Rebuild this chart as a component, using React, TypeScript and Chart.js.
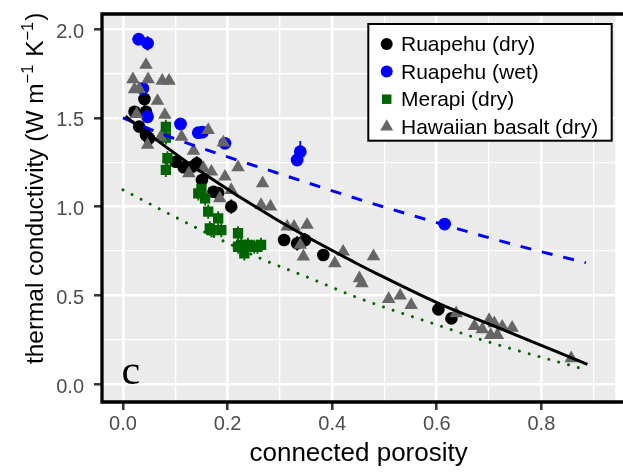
import React, { useEffect, useRef } from 'react';
import { Chart, registerables } from 'chart.js';

Chart.register(...registerables);

// ---------------- axis ticks ----------------
const xMajorTicks = [0, 0.2, 0.4, 0.6, 0.8];
const xMinorTicks = [0.1, 0.3, 0.5, 0.7, 0.9];
const yMajorTicks = [0, 0.5, 1.0, 1.5, 2.0];
const yMinorTicks = [0.25, 0.75, 1.25, 1.75];

const xTitle = 'connected porosity';
const panelTag = 'c';

// ---------------- series ----------------
const seriesLabels = ['Ruapehu (dry)', 'Ruapehu (wet)', 'Merapi (dry)', 'Hawaiian basalt (dry)'];

// Ruapehu (dry)
const ruapehuDryPorosity = [0.022, 0.031, 0.041, 0.044, 0.044, 0.050, 0.101, 0.116, 0.132, 0.141, 0.151, 0.173, 0.182, 0.207, 0.308, 0.333, 0.348, 0.383, 0.603, 0.628];
const ruapehuDryConductivity = [1.535, 1.451, 1.607, 1.535, 1.404, 1.385, 1.253, 1.222, 1.225, 1.244, 1.150, 1.084, 1.077, 1.000, 0.812, 0.793, 0.812, 0.727, 0.421, 0.370];
const ruapehuDryError = [0.03, 0.03, 0.04, 0.03, 0.03, 0.03, 0.03, 0.03, 0.03, 0.04, 0.04, 0.03, 0.03, 0.04, 0.03, 0.04, 0.04, 0.03, 0.02, 0.02];

// Ruapehu (wet)
const ruapehuWetPorosity = [0.030, 0.047, 0.038, 0.047, 0.110, 0.144, 0.152, 0.195, 0.333, 0.339, 0.615];
const ruapehuWetConductivity = [1.944, 1.921, 1.667, 1.507, 1.466, 1.417, 1.420, 1.357, 1.263, 1.310, 0.902];
const ruapehuWetError = [0.02, 0.04, 0.02, 0.03, 0.02, 0.02, 0.02, 0.02, 0.03, 0.06, 0.01];

// Merapi (dry)
const merapiPorosity = [0.082, 0.082, 0.085, 0.082, 0.144, 0.150, 0.157, 0.163, 0.169, 0.166, 0.182, 0.188, 0.220, 0.220, 0.226, 0.232, 0.239, 0.251, 0.257, 0.264];
const merapiConductivity = [1.45, 1.39, 1.273, 1.207, 1.075, 1.10, 1.047, 0.972, 0.868, 0.878, 0.934, 0.868, 0.850, 0.774, 0.784, 0.737, 0.784, 0.774, 0.774, 0.784];
const merapiErrorY = [0.04, 0.04, 0.04, 0.04, 0.04, 0.04, 0.04, 0.04, 0.04, 0.04, 0.04, 0.04, 0.04, 0.04, 0.04, 0.04, 0.04, 0.04, 0.04, 0.04];
const merapiErrorX = [0.006, 0.006, 0.006, 0.006, 0.008, 0.008, 0.008, 0.008, 0.008, 0.008, 0.008, 0.008, 0.008, 0.008, 0.008, 0.008, 0.008, 0.008, 0.008, 0.008];

// Hawaiian basalt (dry)
const hawaiiPorosity = [0.044, 0.019, 0.048, 0.075, 0.088, 0.022, 0.031, 0.066, 0.080, 0.026, 0.112, 0.163, 0.192, 0.072, 0.047, 0.135, 0.126, 0.169, 0.154, 0.195, 0.220, 0.267, 0.207, 0.185, 0.264, 0.282, 0.314, 0.327, 0.352, 0.339, 0.345, 0.421, 0.405, 0.479, 0.452, 0.457, 0.508, 0.530, 0.551, 0.637, 0.672, 0.687, 0.700, 0.710, 0.725, 0.744, 0.703, 0.716, 0.857];
const hawaiiConductivity = [1.799, 1.718, 1.718, 1.710, 1.710, 1.662, 1.663, 1.596, 1.517, 1.522, 1.394, 1.432, 1.361, 1.391, 1.348, 1.315, 1.188, 1.197, 1.216, 1.169, 1.222, 1.132, 1.094, 1.047, 1.009, 1.000, 0.887, 0.887, 0.897, 0.784, 0.718, 0.746, 0.681, 0.720, 0.596, 0.568, 0.479, 0.498, 0.445, 0.399, 0.327, 0.308, 0.361, 0.342, 0.323, 0.317, 0.276, 0.276, 0.145];

// Fit curves
const dryFitPorosity = [0.005, 0.022, 0.056, 0.144, 0.295, 0.446, 0.484, 0.603, 0.697, 0.888];
const dryFitConductivity = [1.51, 1.47, 1.394, 1.207, 0.925, 0.681, 0.624, 0.455, 0.342, 0.111];

const wetFitPorosity = [0.0, 0.07, 0.17, 0.295, 0.458, 0.54, 0.703, 0.797, 0.885];
const wetFitConductivity = [1.50, 1.415, 1.31, 1.19, 1.035, 0.962, 0.822, 0.748, 0.684];

const merapiFitPorosity = [0.0, 0.138, 0.195, 0.270, 0.352, 0.452, 0.596, 0.697, 0.882];
const merapiFitConductivity = [1.095, 0.884, 0.802, 0.699, 0.603, 0.483, 0.338, 0.239, 0.083];

// ---------------- helpers ----------------
const FONT = '"Liberation Sans", Arial, Helvetica, sans-serif';
const pts = (xs: number[], ys: number[]) => xs.map((x, i) => ({ x, y: ys[i] }));
const isIn = (arr: number[], v: number) => arr.some((a) => Math.abs(a - v) < 1e-9);
const sorted = (a: number[]) => [...a].sort((p, q) => p - q);

const BLACK = '#000000';
const BLUE = '#0000FF';
const GREEN = '#006400';
const GREY = '#666666';

function drawMarker(ctx: CanvasRenderingContext2D, style: string, x: number, y: number, r: number, color: string) {
  ctx.fillStyle = color;
  ctx.beginPath();
  if (style === 'circle') {
    ctx.arc(x, y, r, 0, Math.PI * 2);
  } else if (style === 'rect') {
    const s = Math.SQRT1_2 * r;
    ctx.rect(x - s, y - s, 2 * s, 2 * s);
  } else if (style === 'triangle') {
    let rad = 0;
    ctx.moveTo(x + Math.sin(rad) * r, y - Math.cos(rad) * r);
    rad += (2 * Math.PI) / 3;
    ctx.lineTo(x + Math.sin(rad) * r, y - Math.cos(rad) * r);
    rad += (2 * Math.PI) / 3;
    ctx.lineTo(x + Math.sin(rad) * r, y - Math.cos(rad) * r);
    ctx.closePath();
  }
  ctx.fill();
}

const decorPlugin = {
  id: 'decor',
  beforeDraw(chart: any) {
    const { ctx, chartArea: a } = chart;
    ctx.save();
    ctx.fillStyle = '#EBEBEB';
    ctx.fillRect(a.left, a.top, a.right - a.left, a.bottom - a.top);
    ctx.restore();
  },
  beforeDatasetsDraw(chart: any) {
    // error bars
    const { ctx, scales } = chart;
    const xs = scales.x;
    const ys = scales.y;
    ctx.save();
    ctx.beginPath();
    ctx.rect(chart.chartArea.left, chart.chartArea.top, chart.chartArea.right - chart.chartArea.left, chart.chartArea.bottom - chart.chartArea.top);
    ctx.clip();
    chart.data.datasets.forEach((ds: any) => {
      if (!ds.errY && !ds.errX) return;
      ctx.strokeStyle = ds.backgroundColor;
      ctx.lineWidth = 1.8;
      ds.data.forEach((p: any, i: number) => {
        const px = xs.getPixelForValue(p.x);
        const py = ys.getPixelForValue(p.y);
        if (ds.errY) {
          const e = ds.errY[i];
          ctx.beginPath();
          ctx.moveTo(px, ys.getPixelForValue(p.y - e));
          ctx.lineTo(px, ys.getPixelForValue(p.y + e));
          ctx.stroke();
        }
        if (ds.errX) {
          const e = ds.errX[i];
          ctx.beginPath();
          ctx.moveTo(xs.getPixelForValue(p.x - e), py);
          ctx.lineTo(xs.getPixelForValue(p.x + e), py);
          ctx.stroke();
        }
      });
    });
    ctx.restore();
  },
  afterDatasetsDraw(chart: any) {
    const { ctx, scales } = chart;
    ctx.save();
    ctx.fillStyle = '#000000';
    ctx.font = '42px "Liberation Serif", "Times New Roman", serif';
    ctx.textAlign = 'left';
    ctx.textBaseline = 'alphabetic';
    ctx.fillText(panelTag, scales.x.getPixelForValue(0) - 1.5, scales.y.getPixelForValue(0) + 0.5);
    ctx.restore();
  },
  afterDraw(chart: any) {
    const { ctx, chartArea: a } = chart;
    ctx.save();
    // panel border (right edge falls outside the picture)
    ctx.strokeStyle = '#000000';
    ctx.lineWidth = 3.3;
    ctx.beginPath();
    ctx.moveTo(a.right + 10, a.top);
    ctx.lineTo(a.left, a.top);
    ctx.lineTo(a.left, a.bottom);
    ctx.lineTo(a.right + 10, a.bottom);
    ctx.stroke();

    // legend
    const items = chart.data.datasets.filter((d: any) => d.inLegend);
    const bx = 368.3, by = 24, bw = 611.7 - 368.3, bh = 116.7;
    ctx.fillStyle = '#FFFFFF';
    ctx.fillRect(bx, by, bw, bh);
    ctx.strokeStyle = '#000000';
    ctx.lineWidth = 2;
    ctx.strokeRect(bx, by, bw, bh);
    ctx.font = `21px ${FONT}`;
    ctx.textAlign = 'left';
    ctx.textBaseline = 'alphabetic';
    items.forEach((d: any, i: number) => {
      const cy = by + 20 + i * 27.6;
      drawMarker(ctx, d.pointStyle, 386.7, cy, d.legendRadius, d.backgroundColor);
      ctx.fillStyle = '#000000';
      ctx.fillText(d.label, 401, cy + 7);
    });

    // y axis title with superscripts
    const parts: { t: string; sup?: boolean }[] = [
      { t: 'thermal conductivity (W m' },
      { t: '\u22121', sup: true },
      { t: ' K' },
      { t: '\u22121', sup: true },
      { t: ')' },
    ];
    ctx.translate(42.5, 364);
    ctx.rotate(-Math.PI / 2);
    ctx.fillStyle = '#000000';
    let x = 0;
    parts.forEach((p) => {
      ctx.font = p.sup ? `16.5px ${FONT}` : `24.4px ${FONT}`;
      ctx.fillText(p.t, x, p.sup ? -10 : 0);
      x += ctx.measureText(p.t).width + (p.sup ? 1 : 0);
    });
    ctx.restore();
  },
};

function buildConfig(): any {
  const markerBase = { showLine: false, pointBorderWidth: 0, inLegend: true };
  const lineBase = { showLine: true, pointRadius: 0, pointHoverRadius: 0, borderWidth: 3, cubicInterpolationMode: 'monotone', inLegend: false };
  return {
    type: 'scatter',
    data: {
      datasets: [
        { ...lineBase, data: pts(dryFitPorosity, dryFitConductivity), borderColor: BLACK, backgroundColor: BLACK, order: 0 },
        { ...lineBase, data: pts(wetFitPorosity, wetFitConductivity), borderColor: BLUE, backgroundColor: BLUE, borderDash: [11, 11], order: 0 },
        { ...lineBase, data: pts(merapiFitPorosity, merapiFitConductivity), borderColor: GREEN, backgroundColor: GREEN, borderDash: [0.01, 10.2], borderCapStyle: 'round', borderWidth: 3, order: 0 },
        { ...markerBase, label: seriesLabels[0], data: pts(ruapehuDryPorosity, ruapehuDryConductivity), errY: ruapehuDryError, pointStyle: 'circle', pointRadius: 6.3, legendRadius: 6, backgroundColor: BLACK, borderColor: BLACK, order: 4 },
        { ...markerBase, label: seriesLabels[1], data: pts(ruapehuWetPorosity, ruapehuWetConductivity), errY: ruapehuWetError, pointStyle: 'circle', pointRadius: 6.4, legendRadius: 6, backgroundColor: BLUE, borderColor: BLUE, order: 3 },
        { ...markerBase, label: seriesLabels[2], data: pts(merapiPorosity, merapiConductivity), errY: merapiErrorY, errX: merapiErrorX, pointStyle: 'rect', pointRadius: 7.3, legendRadius: 6.7, backgroundColor: GREEN, borderColor: GREEN, order: 2 },
        { ...markerBase, label: seriesLabels[3], data: pts(hawaiiPorosity, hawaiiConductivity), pointStyle: 'triangle', pointRadius: 7.8, legendRadius: 7.5, backgroundColor: GREY, borderColor: GREY, order: 1 },
      ],
    },
    options: {
      animation: false,
      responsive: false,
      devicePixelRatio: 1,
      events: [],
      layout: { padding: { top: 14, left: 0, right: 0, bottom: 0 } },
      plugins: { legend: { display: false }, tooltip: { enabled: false }, title: { display: false } },
      scales: {
        x: {
          type: 'linear',
          min: -0.0401,
          max: 0.9411,
          afterBuildTicks: (s: any) => {
            s.ticks = sorted([...xMajorTicks, ...xMinorTicks]).map((v) => ({ value: v }));
          },
          afterFit: (s: any) => {
            s.height = 71;
            s.paddingLeft = 0; s.paddingRight = 0; s.paddingTop = 0; s.paddingBottom = 0;
          },
          ticks: {
            autoSkip: false,
            maxRotation: 0,
            minRotation: 0,
            padding: 2,
            color: '#4D4D4D',
            font: { family: FONT, size: 20 },
            callback: (v: any) => (isIn(xMajorTicks, Number(v)) ? Number(v).toFixed(1) : ''),
          },
          grid: {
            color: '#FFFFFF',
            lineWidth: (c: any) => (c.tick && isIn(xMajorTicks, c.tick.value) ? 2.6 : 1.3),
            drawTicks: true,
            tickLength: 8,
            tickWidth: 2.5,
            tickColor: (c: any) => (c.tick && isIn(xMajorTicks, c.tick.value) ? '#333333' : 'rgba(0,0,0,0)'),
          },
          border: { display: false },
          title: { display: true, text: xTitle, color: '#000000', font: { family: FONT, size: 26 }, padding: { top: 0, bottom: 4 } },
        },
        y: {
          type: 'linear',
          min: -0.1015,
          max: 2.0863,
          afterBuildTicks: (s: any) => {
            s.ticks = sorted([...yMajorTicks, ...yMinorTicks]).map((v) => ({ value: v }));
          },
          afterFit: (s: any) => {
            s.width = 102;
            s.paddingLeft = 0; s.paddingRight = 0; s.paddingTop = 0; s.paddingBottom = 0;
          },
          ticks: {
            autoSkip: false,
            padding: 10,
            labelOffset: 3,
            color: '#4D4D4D',
            font: { family: FONT, size: 20 },
            callback: (v: any) => (isIn(yMajorTicks, Number(v)) ? Number(v).toFixed(1) : ''),
          },
          grid: {
            color: '#FFFFFF',
            lineWidth: (c: any) => (c.tick && isIn(yMajorTicks, c.tick.value) ? 2.6 : 1.3),
            drawTicks: true,
            tickLength: 8,
            tickWidth: 2.5,
            tickColor: (c: any) => (c.tick && isIn(yMajorTicks, c.tick.value) ? '#333333' : 'rgba(0,0,0,0)'),
          },
          border: { display: false },
          title: { display: false },
        },
      },
    },
    plugins: [decorPlugin],
  };
}

export default function App() {
  const ref = useRef<HTMLCanvasElement>(null);
  useEffect(() => {
    if (!ref.current) return;
    const chart = new Chart(ref.current, buildConfig());
    return () => chart.destroy();
  }, []);
  return (
    <div style={{ position: 'absolute', left: 0, top: 0, width: 623, height: 473, background: '#FFFFFF', overflow: 'hidden' }}>
      <canvas ref={ref} width={623} height={473} style={{ display: 'block', width: 623, height: 473 }} />
    </div>
  );
}
